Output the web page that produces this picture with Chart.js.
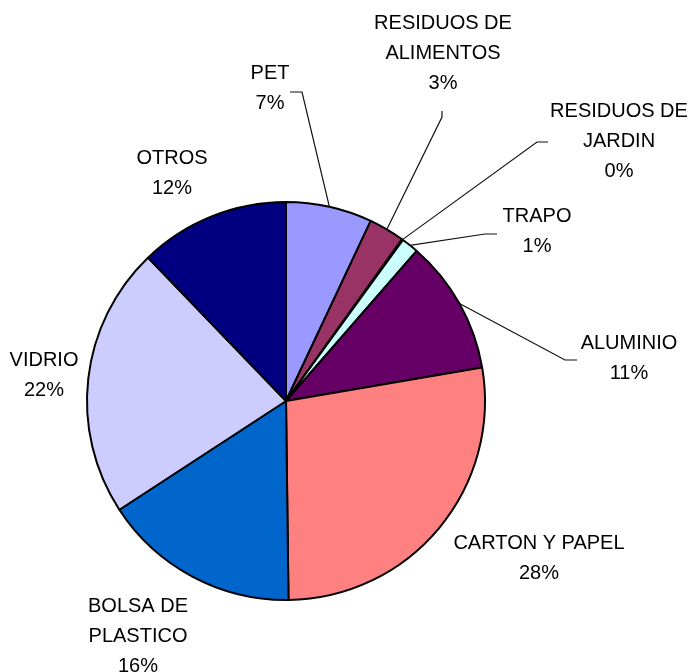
<!DOCTYPE html>
<html>
<head>
<meta charset="utf-8">
<script src="https://cdn.jsdelivr.net/npm/chart.js@4"></script>
<style>
  html, body { margin: 0; padding: 0; background: #fff; }
  #wrap { width: 691px; height: 672px; position: relative; }
</style>
</head>
<body>
<div id="wrap"><canvas id="c" width="691" height="672"></canvas></div>
<script>
// ---- data ----
const categories = [
  ['PET'],
  ['RESIDUOS DE', 'ALIMENTOS'],
  ['RESIDUOS DE', 'JARDIN'],
  ['TRAPO'],
  ['ALUMINIO'],
  ['CARTON Y PAPEL'],
  ['BOLSA DE', 'PLASTICO'],
  ['VIDRIO'],
  ['OTROS']
];
const values = [7.0, 2.9, 0.1, 1.4, 10.9, 27.5, 16.0, 22.0, 12.2];
const colors = ['#9999FF', '#993366', '#FFFFCC', '#CCFFFF', '#660066', '#FF8080', '#0066CC', '#CCCCFF', '#000080'];

// ---- label layout (text centre of first line, leader elbow/end points) ----
const labelLayout = [
  { x: 270, y: 73,  leader: [[302, 92], [290, 92]] },
  { x: 443, y: 23,  leader: [[442, 117], [442, 111]] },
  { x: 619, y: 111, leader: [[537, 142], [548, 142]] },
  { x: 537, y: 216, leader: [[485, 234], [497, 234]] },
  { x: 629, y: 343, leader: [[565, 360], [577, 360]] },
  { x: 539, y: 543, leader: null },
  { x: 138, y: 606, leader: null },
  { x: 44,  y: 360, leader: null },
  { x: 172, y: 158, leader: null }
];

const labelPlugin = {
  id: 'pieLabels',
  afterDatasetsDraw(chart) {
    const ctx = chart.ctx;
    const meta = chart.getDatasetMeta(0);
    const ds = chart.data.datasets[0];
    ctx.save();
    meta.data.forEach((arc, i) => {
      const L = labelLayout[i];
      if (L.leader) {
        const p = arc.getProps(['x', 'y', 'startAngle', 'endAngle', 'outerRadius'], true);
        const a = (p.startAngle + p.endAngle) / 2;
        const sx = p.x + Math.cos(a) * p.outerRadius;
        const sy = p.y + Math.sin(a) * p.outerRadius;
        ctx.beginPath();
        ctx.strokeStyle = '#111';
        ctx.lineWidth = 1.2;
        ctx.moveTo(sx, sy);
        L.leader.forEach(pt => ctx.lineTo(pt[0], pt[1]));
        ctx.stroke();
      }
      const lines = chart.data.labels[i].concat([Math.round(ds.data[i]) + '%']);
      ctx.fillStyle = '#000';
      ctx.font = '20px "Liberation Sans", Arial, sans-serif';
      ctx.textAlign = 'center';
      ctx.textBaseline = 'middle';
      lines.forEach((t, k) => ctx.fillText(t, L.x, L.y + k * 30));
    });
    ctx.restore();
  }
};

new Chart(document.getElementById('c'), {
  type: 'pie',
  data: {
    labels: categories,
    datasets: [{
      data: values,
      backgroundColor: colors,
      borderColor: '#000',
      borderWidth: 2,
      hoverOffset: 0
    }]
  },
  options: {
    responsive: false,
    animation: false,
    events: [],
    layout: { padding: { left: 86, right: 205, top: 201, bottom: 71 } },
    plugins: {
      legend: { display: false },
      tooltip: { enabled: false }
    }
  },
  plugins: [labelPlugin]
});
</script>
</body>
</html>
